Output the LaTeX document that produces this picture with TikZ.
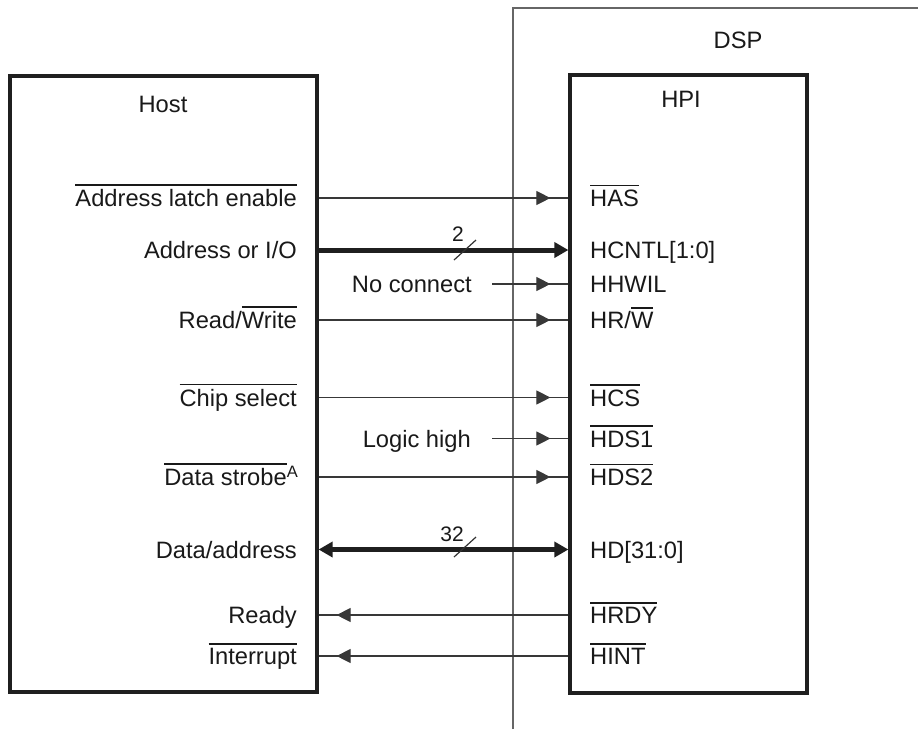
\documentclass[tikz,border=0pt]{standalone}
\usepackage{fontspec}
\setmainfont{Liberation Sans}
\usetikzlibrary{arrows.meta,decorations.markings}
% active-low signal names: bar drawn above the text
\newcommand\ovl[1]{\vbox{\hrule height 1.5pt\kern 3.5pt\hbox{#1}}}

\begin{document}
\begin{tikzpicture}[x=1pt,y=-1pt,
  every node/.style={font=\fontsize{23.7}{28}\selectfont, inner sep=0pt, text=black!90},
  lbl/.style={text height=17pt, text depth=0pt},
  box/.style={draw=black!88, line width=3.2pt, inner sep=0pt},
  sig/.style={draw=black!78, line width=1.1pt, postaction={decorate},
    decoration={markings, mark=at position -18pt with {\arrow{Triangle[length=14pt,width=14pt]}}}},
  bus/.style={draw=black!88, line width=5pt},
  slash/.style={draw=black!80, line width=1.2pt},
  frame/.style={draw=black!60, line width=1.2pt},
  buslbl/.style={font=\fontsize{21}{24}\selectfont}]

\useasboundingbox (0,0) rectangle (918,729);

% DSP boundary
\draw[frame] (513,729) -- (513,8) -- (918,8);
\node (dsp) at (738,40) {DSP};

% the two blocks
\node[box, minimum width=307pt, minimum height=616pt] (host) at (163.5,384) {};
\node[box, minimum width=237pt, minimum height=618pt] (hpi) at (688.5,384) {};
\node (hosttitle) at (163,104) {Host};
\node (hpititle) at (681,99) {HPI};

% host-side signal names
\node[lbl, anchor=east] (ale)  at (297,198)   {\ovl{Address latch enable}};
\node[lbl, anchor=east] (aio)  at (297,250)   {Address or I/O};
\node[lbl, anchor=east] (rw)   at (297,320)   {Read/\ovl{Write}};
\node[lbl, anchor=east] (cs)   at (297,397.5) {\ovl{Chip select}};
\node[lbl, anchor=east] (ds)   at (298,477)   {\ovl{Data strobe}\raisebox{8.5pt}{\fontsize{16.5}{16.5}\selectfont A}};
\node[lbl, anchor=east] (da)   at (297,549.5) {Data/address};
\node[lbl, anchor=east] (rdy)  at (297,615)   {Ready};
\node[lbl, anchor=east] (irq)  at (297,656)   {\ovl{Interrupt}};

% HPI pins
\node[lbl, anchor=west] (has)   at (590,198)   {\ovl{HAS}};
\node[lbl, anchor=west] (hcntl) at (590,250)   {HCNTL[1:0]};
\node[lbl, anchor=west] (hhwil) at (590,284)   {HHWIL};
\node[lbl, anchor=west] (hrw)   at (590,320)   {HR/\ovl{W}};
\node[lbl, anchor=west] (hcs)   at (590,397.5) {\ovl{HCS}};
\node[lbl, anchor=west] (hds1)  at (590,438.5) {\ovl{HDS1}};
\node[lbl, anchor=west] (hds2)  at (590,477)   {\ovl{HDS2}};
\node[lbl, anchor=west] (hd)    at (590,549.5) {HD[31:0]};
\node[lbl, anchor=west] (hrdy)  at (590,615)   {\ovl{HRDY}};
\node[lbl, anchor=west] (hint)  at (590,656)   {\ovl{HINT}};

% tied-off inputs
\node[lbl, anchor=east] (nc) at (472,284)   {No connect};
\node[lbl, anchor=east] (lh) at (471,438.5) {Logic high};

% host -> HPI control lines
\draw[sig] (host.east |- has.west)  -- (hpi.west |- has.west);
\draw[sig] (host.east |- hrw.west)  -- (hpi.west |- hrw.west);
\draw[sig] (host.east |- hcs.west)  -- (hpi.west |- hcs.west);
\draw[sig] (host.east |- hds2.west) -- (hpi.west |- hds2.west);
\draw[sig] ([xshift=20pt]nc.east) -- (hpi.west |- hhwil.west);
\draw[sig] ([xshift=21pt]lh.east) -- (hpi.west |- hds1.west);

% HPI -> host status lines
\draw[sig] (hpi.west |- hrdy.west) -- (host.east |- hrdy.west);
\draw[sig] (hpi.west |- hint.west) -- (host.east |- hint.west);

% buses
\draw[bus, -{Triangle[length=14pt,width=15pt]}] (host.east |- hcntl.west) -- (hpi.west |- hcntl.west);
\draw[bus, {Triangle[length=14pt,width=15pt]}-{Triangle[length=14pt,width=15pt]}] (host.east |- hd.west) -- (hpi.west |- hd.west);

% bus width marks
\coordinate (s1) at (465,250);
\coordinate (s2) at (465,547);
\draw[slash] (s1) ++(-11,10) -- ++(22,-20);
\draw[slash] (s2) ++(-11,10) -- ++(22,-20);
\node[buslbl] (w1) at (458,234) {2};
\node[buslbl] (w2) at (452,534) {32};
\end{tikzpicture}
\end{document}
